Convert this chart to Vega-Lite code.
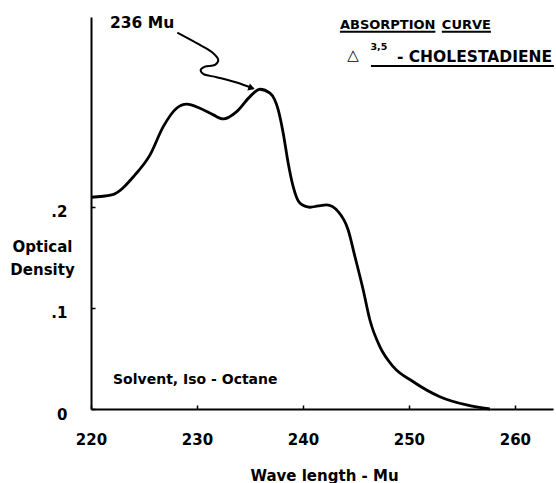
{
  "$schema": "https://vega.github.io/schema/vega-lite/v6.json",
  "width": 462,
  "height": 392,
  "autosize": {"type": "none"},
  "padding": {"left": 91, "top": 17, "right": 3, "bottom": 74},
  "background": "white",
  "config": {"view": {"stroke": null}, "font": "DejaVu Sans"},
  "datasets": {
    "curve": [
      {"wl": 220.0, "od": 0.2096},
      {"wl": 221.95, "od": 0.2119},
      {"wl": 224.15, "od": 0.2317},
      {"wl": 225.57, "od": 0.2515},
      {"wl": 226.82, "od": 0.2795},
      {"wl": 228.08, "od": 0.2977},
      {"wl": 229.03, "od": 0.3017},
      {"wl": 230.28, "od": 0.2977},
      {"wl": 231.54, "od": 0.2911},
      {"wl": 232.48, "od": 0.2871},
      {"wl": 233.75, "od": 0.2944},
      {"wl": 235.0, "od": 0.3092},
      {"wl": 235.94, "od": 0.3165},
      {"wl": 236.89, "od": 0.3126},
      {"wl": 237.67, "od": 0.296},
      {"wl": 238.14, "od": 0.273},
      {"wl": 238.61, "od": 0.2433},
      {"wl": 239.08, "od": 0.2201},
      {"wl": 239.72, "od": 0.2037},
      {"wl": 240.66, "od": 0.1997},
      {"wl": 241.44, "od": 0.201},
      {"wl": 242.24, "od": 0.202},
      {"wl": 243.33, "od": 0.1953},
      {"wl": 244.27, "od": 0.1772},
      {"wl": 244.91, "od": 0.1508},
      {"wl": 245.69, "od": 0.1178},
      {"wl": 246.32, "od": 0.0881},
      {"wl": 247.26, "od": 0.0617},
      {"wl": 248.52, "od": 0.0419},
      {"wl": 250.41, "od": 0.027},
      {"wl": 252.92, "od": 0.0122},
      {"wl": 255.44, "od": 0.004},
      {"wl": 257.64, "od": 0.0}
    ],
    "arrow": [
      {"i": 1, "wl": 228.14, "od": 0.3726},
      {"i": 2, "wl": 230.28, "od": 0.3604},
      {"i": 3, "wl": 231.54, "od": 0.3522},
      {"i": 4, "wl": 232.01, "od": 0.3455},
      {"i": 5, "wl": 231.7, "od": 0.3406},
      {"i": 6, "wl": 230.75, "od": 0.3389},
      {"i": 7, "wl": 230.35, "od": 0.3356},
      {"i": 8, "wl": 230.59, "od": 0.3317},
      {"i": 9, "wl": 231.86, "od": 0.3284},
      {"i": 10, "wl": 233.75, "od": 0.3231},
      {"i": 11, "wl": 235.3, "od": 0.3172}
    ],
    "head": [{"wl": 235.16, "od": 0.3177}],
    "underlines": [
      {"wl": 243.49, "wl2": 252.5, "od": 0.3733},
      {"wl": 253.11, "wl2": 257.74, "od": 0.3733},
      {"wl": 246.42, "wl2": 263.68, "od": 0.3396}
    ],
    "leftText": [
      {"wl": 221.79, "od": 0.3822, "label": "236 Mu"},
      {"wl": 248.87, "od": 0.3488, "label": "- CHOLESTADIENE"}
    ],
    "titleLeft": [{"wl": 243.49, "od": 0.3802, "label": "ABSORPTION"}],
    "titleRight": [{"wl": 257.74, "od": 0.3802, "label": "CURVE"}],
    "solvent": [{"wl": 222.08, "od": 0.0287, "label": "Solvent, Iso - Octane"}],
    "sup": [{"wl": 247.17, "od": 0.3581, "label": "3,5"}],
    "delta": [{"wl": 244.72, "od": 0.3505, "label": "△"}]
  },
  "layer": [
    {
      "data": {"name": "curve"},
      "mark": {"type": "line", "interpolate": "monotone", "color": "black", "strokeWidth": 2.8},
      "encoding": {
        "x": {
          "field": "wl", "type": "quantitative",
          "scale": {"domain": [220, 263.6], "nice": false, "zero": false},
          "axis": {
            "values": [220, 230, 240, 250, 260],
            "title": "Wave length - Mu",
            "grid": false,
            "domainColor": "black", "domainWidth": 2,
            "tickColor": "black", "tickSize": -4, "tickWidth": 1.5,
            "labelFont": "DejaVu Sans", "labelFontWeight": "bold", "labelFontSize": 15, "labelColor": "black",
            "labelPadding": 34, "labelBaseline": "middle", "labelFlush": false, "labelOverlap": false,
            "titleFont": "DejaVu Sans", "titleFontWeight": "bold", "titleFontSize": 15, "titleColor": "black",
            "titleX": 233, "titleY": 66, "titleAlign": "center", "titleBaseline": "middle"
          }
        },
        "y": {
          "field": "od", "type": "quantitative",
          "scale": {"domain": [0, 0.388], "nice": false},
          "axis": {
            "values": [0, 0.1, 0.2],
            "labelExpr": "datum.value == 0 ? '0' : (datum.value < 0.15 ? '.1' : '.2')",
            "title": ["Optical", "Density"],
            "grid": false,
            "domainColor": "black", "domainWidth": 2,
            "tickColor": "black", "tickSize": -4, "tickWidth": 1.5,
            "labelFont": "DejaVu Sans", "labelFontWeight": "bold", "labelFontSize": 15, "labelColor": "black",
            "labelPadding": 28, "labelOffset": 5, "labelBaseline": "middle", "labelAlign": "right", "labelFlush": false, "labelOverlap": false,
            "titleFont": "DejaVu Sans", "titleFontWeight": "bold", "titleFontSize": 15, "titleColor": "black",
            "titleAngle": 0, "titleX": -49, "titleY": 229, "titleAlign": "center", "titleBaseline": "middle", "titleLineHeight": 23
          }
        }
      }
    },
    {
      "data": {"name": "arrow"},
      "mark": {"type": "line", "interpolate": "catmull-rom", "color": "black", "strokeWidth": 2},
      "encoding": {
        "x": {"field": "wl", "type": "quantitative"},
        "y": {"field": "od", "type": "quantitative"},
        "order": {"field": "i", "type": "quantitative"}
      }
    },
    {
      "data": {"name": "head"},
      "mark": {"type": "point", "shape": "triangle-right", "filled": true, "color": "black", "size": 55, "angle": 20, "opacity": 1},
      "encoding": {
        "x": {"field": "wl", "type": "quantitative"},
        "y": {"field": "od", "type": "quantitative"}
      }
    },
    {
      "data": {"name": "underlines"},
      "mark": {"type": "rule", "color": "black", "strokeWidth": 2},
      "encoding": {
        "x": {"field": "wl", "type": "quantitative"},
        "x2": {"field": "wl2"},
        "y": {"field": "od", "type": "quantitative"}
      }
    },
    {
      "data": {"name": "leftText"},
      "mark": {"type": "text", "align": "left", "baseline": "middle", "font": "DejaVu Sans", "fontWeight": "bold", "fontSize": 15.5, "color": "black"},
      "encoding": {
        "x": {"field": "wl", "type": "quantitative"},
        "y": {"field": "od", "type": "quantitative"},
        "text": {"field": "label"}
      }
    },
    {
      "data": {"name": "titleLeft"},
      "mark": {"type": "text", "align": "left", "baseline": "middle", "font": "DejaVu Sans", "fontWeight": "bold", "fontSize": 13, "color": "black"},
      "encoding": {
        "x": {"field": "wl", "type": "quantitative"},
        "y": {"field": "od", "type": "quantitative"},
        "text": {"field": "label"}
      }
    },
    {
      "data": {"name": "titleRight"},
      "mark": {"type": "text", "align": "right", "baseline": "middle", "font": "DejaVu Sans", "fontWeight": "bold", "fontSize": 13, "color": "black"},
      "encoding": {
        "x": {"field": "wl", "type": "quantitative"},
        "y": {"field": "od", "type": "quantitative"},
        "text": {"field": "label"}
      }
    },
    {
      "data": {"name": "solvent"},
      "mark": {"type": "text", "align": "left", "baseline": "middle", "font": "DejaVu Sans", "fontWeight": "bold", "fontSize": 14, "color": "black"},
      "encoding": {
        "x": {"field": "wl", "type": "quantitative"},
        "y": {"field": "od", "type": "quantitative"},
        "text": {"field": "label"}
      }
    },
    {
      "data": {"name": "sup"},
      "mark": {"type": "text", "align": "center", "baseline": "middle", "font": "DejaVu Sans", "fontWeight": "bold", "fontSize": 9.5, "color": "black"},
      "encoding": {
        "x": {"field": "wl", "type": "quantitative"},
        "y": {"field": "od", "type": "quantitative"},
        "text": {"field": "label"}
      }
    },
    {
      "data": {"name": "delta"},
      "mark": {"type": "text", "align": "center", "baseline": "middle", "font": "DejaVu Sans", "fontSize": 15, "color": "black"},
      "encoding": {
        "x": {"field": "wl", "type": "quantitative"},
        "y": {"field": "od", "type": "quantitative"},
        "text": {"field": "label"}
      }
    }
  ]
}
